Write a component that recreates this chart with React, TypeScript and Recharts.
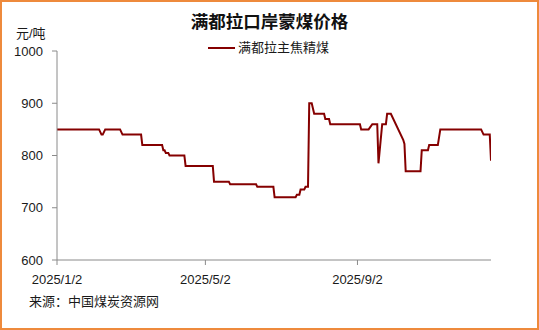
import React from "react";
import { LineChart, Line, XAxis, YAxis } from "recharts";

const title = "满都拉口岸蒙煤价格";
const unitLabel = "元/吨";
const seriesName = "满都拉主焦精煤";
const sourceText = "来源：中国煤炭资源网";

const dates = [
  "2025-01-02", "2025-02-05", "2025-02-07", "2025-02-08", "2025-02-10", "2025-02-22",
  "2025-02-24", "2025-03-11", "2025-03-12", "2025-03-28", "2025-03-29", "2025-03-30",
  "2025-03-31", "2025-04-02", "2025-04-03", "2025-04-15", "2025-04-16", "2025-05-08",
  "2025-05-09", "2025-05-21", "2025-05-22", "2025-06-12", "2025-06-13", "2025-06-26",
  "2025-06-27", "2025-07-14", "2025-07-15", "2025-07-17", "2025-07-18", "2025-07-21",
  "2025-07-22", "2025-07-24", "2025-07-25", "2025-07-27", "2025-07-29", "2025-08-06",
  "2025-08-07", "2025-08-10", "2025-08-11", "2025-09-04", "2025-09-05", "2025-09-11",
  "2025-09-14", "2025-09-18", "2025-09-19", "2025-09-22", "2025-09-25", "2025-09-26",
  "2025-09-29", "2025-10-09", "2025-10-10", "2025-10-11", "2025-10-23", "2025-10-24",
  "2025-10-29", "2025-10-30", "2025-11-06", "2025-11-08", "2025-12-11", "2025-12-13",
  "2025-12-18", "2025-12-19",
];

const prices = [
  850, 850, 840, 840, 850, 850,
  840, 840, 820, 820, 810, 810,
  805, 805, 800, 800, 780, 780,
  750, 750, 745, 745, 740, 740,
  720, 720, 725, 725, 735, 735,
  740, 740, 900, 900, 880, 880,
  870, 870, 860, 860, 850, 850,
  860, 860, 785, 860, 860, 880,
  880, 830, 822, 770, 770, 810,
  810, 820, 820, 850, 850, 840,
  840, 790,
];

const axisStart = "2025-01-02";
const axisEnd = "2025-12-19";
const tickDates = ["2025-01-02", "2025-05-02", "2025-09-02"];
const tickLabels = ["2025/1/2", "2025/5/2", "2025/9/2"];
const yTicks = [600, 700, 800, 900, 1000];

const dayOf = (s: string) => (Date.parse(s) - Date.parse(axisStart)) / 86400000;

const data = dates.map((d, i) => ({ day: dayOf(d), price: prices[i] }));
const tickDays = tickDates.map(dayOf);
const labelFor = (v: number) => {
  const i = tickDays.indexOf(v);
  return i >= 0 ? tickLabels[i] : "";
};

const FONT = '"Liberation Sans", "Noto Sans CJK SC", sans-serif';
const LINE_COLOR = "#850000";
const AXIS_COLOR = "#8a8a8a";

export default function App() {
  return (
    <div
      style={{
        position: "absolute",
        left: 0,
        top: 0,
        width: 539,
        height: 330,
        boxSizing: "border-box",
        border: "2px solid #ee8a3c",
        background: "#fff",
        fontFamily: FONT,
        overflow: "hidden",
      }}
    >
      <div style={{ position: "absolute", left: -2, top: -2 }}>
        <LineChart
          width={539}
          height={330}
          data={data}
          margin={{ top: 51, right: 48, left: 0, bottom: 40 }}
        >
          <XAxis
            type="number"
            dataKey="day"
            domain={[0, dayOf(axisEnd)]}
            ticks={tickDays}
            tickFormatter={labelFor}
            allowDataOverflow
            height={30}
            stroke={AXIS_COLOR}
            tickSize={5}
            tickMargin={10}
            tick={{ fill: "#1a1a1a", fontSize: 13, fontFamily: FONT }}
          />
          <YAxis
            type="number"
            domain={[600, 1000]}
            ticks={yTicks}
            width={57}
            stroke={AXIS_COLOR}
            tickSize={5}
            tickMargin={9}
            tick={{ fill: "#1a1a1a", fontSize: 13, fontFamily: FONT }}
          />
          <Line
            type="linear"
            dataKey="price"
            name={seriesName}
            stroke={LINE_COLOR}
            strokeWidth={2}
            dot={false}
            isAnimationActive={false}
          />
        </LineChart>
      </div>
      <div
        style={{
          position: "absolute",
          left: 0,
          width: 535,
          top: 9,
          textAlign: "center",
          fontSize: 17.5,
          fontWeight: "bold",
          color: "#111",
          lineHeight: "22px",
        }}
      >
        {title}
      </div>
      <div
        style={{
          position: "absolute",
          left: 14,
          top: 23,
          fontSize: 13,
          color: "#1a1a1a",
          lineHeight: "18px",
        }}
      >
        {unitLabel}
      </div>
      <div
        style={{
          position: "absolute",
          left: 206,
          top: 37,
          display: "flex",
          alignItems: "center",
          fontSize: 13,
          color: "#1a1a1a",
          lineHeight: "18px",
        }}
      >
        <svg width={27} height={18} style={{ marginRight: 3 }}>
          <line x1={0} y1={9} x2={27} y2={9} stroke={LINE_COLOR} strokeWidth={2} />
        </svg>
        <span>{seriesName}</span>
      </div>
      <div
        style={{
          position: "absolute",
          left: 27,
          top: 291,
          fontSize: 13,
          color: "#1a1a1a",
          lineHeight: "18px",
        }}
      >
        {sourceText}
      </div>
    </div>
  );
}
